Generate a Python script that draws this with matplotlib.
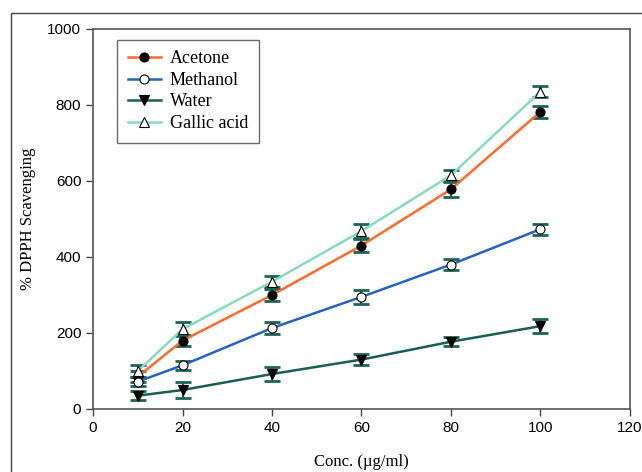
import matplotlib
matplotlib.use("Agg")
import matplotlib.pyplot as plt
from matplotlib.patches import Rectangle

conc = [10, 20, 40, 60, 80, 100]
acetone = [85, 180, 300, 430, 578, 782]
acetone_err = [15, 15, 15, 18, 20, 15]
methanol = [72, 115, 213, 295, 380, 473]
methanol_err = [12, 12, 15, 18, 15, 15]
water = [35, 50, 92, 130, 177, 218]
water_err = [12, 22, 18, 15, 12, 18]
gallic = [100, 210, 335, 468, 615, 835]
gallic_err = [15, 18, 15, 18, 15, 15]

series = [
    ("Acetone", acetone, acetone_err, "#ff6a2a", "o", "black"),
    ("Methanol", methanol, methanol_err, "#2563c2", "o", "white"),
    ("Water", water, water_err, "#175f4f", "v", "black"),
    ("Gallic acid", gallic, gallic_err, "#86dcbc", "^", "white"),
]
err_color = "#1d6456"

fig = plt.figure(figsize=(6.42, 4.72), dpi=100)
ax = fig.add_axes([0.145, 0.1335, 0.836, 0.8051])

# outer frame of the original figure (cut off at right / bottom)
fig.patches.append(Rectangle((11 / 642, -0.1), 1.2, 0.1 + (1 - 13 / 472),
                             transform=fig.transFigure, fill=False,
                             edgecolor="#444444", linewidth=1.0, clip_on=False))

for name, vals, errs, col, mk, face in series:
    ax.errorbar(conc, vals, yerr=errs, fmt="none", ecolor=err_color,
                elinewidth=1.6, capsize=6, capthick=2.0, zorder=2)
    ax.plot(conc, vals, color=col, linewidth=1.8, marker=mk, markersize=6.5,
            markerfacecolor=face, markeredgecolor="black", markeredgewidth=0.8,
            label=name, zorder=3)

ax.set_xlim(0, 120)
ax.set_ylim(0, 1000)
ax.set_xticks(range(0, 121, 20))
ax.set_yticks(range(0, 1001, 200))
ax.tick_params(direction="out", length=5, width=1, colors="#444444",
               labelsize=11, labelcolor="black")
for lab in ax.get_xticklabels() + ax.get_yticklabels():
    lab.set_family("Liberation Sans")
for sp in ax.spines.values():
    sp.set_color("#555555")
    sp.set_linewidth(1.2)

ax.set_xlabel("Conc. (\u00b5g/ml)", family="Liberation Serif", fontsize=12, labelpad=14)
ax.set_ylabel("% DPPH Scavenging", family="Liberation Serif", fontsize=12, labelpad=8)

leg = ax.legend(loc="upper left", bbox_to_anchor=(0.045, 0.972), borderaxespad=0,
                prop={"family": "Liberation Serif", "size": 13},
                frameon=True, fancybox=False, edgecolor="#444444",
                handlelength=1.8, handletextpad=0.5, borderpad=0.6,
                labelspacing=0.25)
leg.get_frame().set_linewidth(1.0)

fig.savefig("out.png", dpi=100)
